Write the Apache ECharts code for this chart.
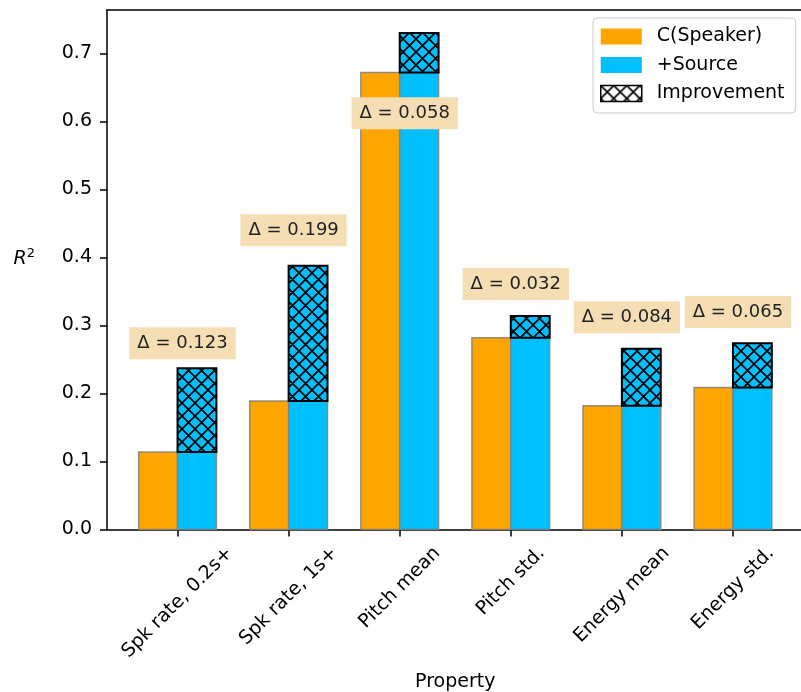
<!DOCTYPE html>
<html>
<head>
<meta charset="utf-8">
<script src="https://cdn.jsdelivr.net/npm/echarts@6/dist/echarts.min.js"></script>
<style>
  html, body { margin: 0; padding: 0; background: #fff; }
  #chart { width: 801px; height: 692px; }
</style>
</head>
<body>
<div id="chart"></div>
<script>
// Explained variance (R^2) of each prosodic property
const categories = ['Spk rate, 0.2s+', 'Spk rate, 1s+', 'Pitch mean', 'Pitch std.', 'Energy mean', 'Energy std.'];
const speakerR2 = [0.114, 0.189, 0.672, 0.282, 0.182, 0.209];
const improvement = [0.123, 0.199, 0.058, 0.032, 0.084, 0.065];
// height (R^2 units) at which each Δ note is placed
const deltaNoteY = [0.274, 0.440, 0.612, 0.361, 0.312, 0.320];
const yTicks = [0, 0.1, 0.2, 0.3, 0.4, 0.5, 0.6, 0.7];

const FONT = 'DejaVu Sans';
const ORANGE = '#FFA500';
const BLUE = '#00BFFF';
const EDGE = 'rgba(128,128,128,0.85)';
const BAR_W = 0.35;
const NOTE_DX = 0.045;
const TICK_FS = 19;
const X_MIN = -0.635, X_MAX = 5.635;

// cross-hatch tile used as a pattern fill
function hatchTile(bg) {
  const s = 13;
  const c = document.createElement('canvas');
  c.width = c.height = s;
  const g = c.getContext('2d');
  g.fillStyle = bg;
  g.fillRect(0, 0, s, s);
  g.strokeStyle = '#000';
  g.lineWidth = 1.7;
  g.beginPath();
  for (const o of [-s, 0, s]) {
    g.moveTo(o, 0); g.lineTo(o + s, s);
    g.moveTo(o + s, 0); g.lineTo(o, s);
  }
  g.stroke();
  return c;
}
const hatchBlue = { image: hatchTile(BLUE), repeat: 'repeat' };
const hatchWhite = { image: hatchTile('#fff'), repeat: 'repeat' };

function rectBetween(api, x0, x1, y0, y1) {
  const a = api.coord([x0, y1]);
  const b = api.coord([x1, y0]);
  return { x: a[0], y: a[1], width: b[0] - a[0], height: b[1] - a[1] };
}

// rotated tick labels: pad each one so its bounding box is centred under the tick
const measure = document.createElement('canvas').getContext('2d');
measure.font = TICK_FS + 'px "' + FONT + '"';
const tickRich = {};
categories.forEach((c, i) => {
  const L = measure.measureText(c).width;
  const s = (L + TICK_FS) / 2;
  tickRich['c' + i] = { fontSize: TICK_FS, fontFamily: FONT, color: '#000', padding: [s, s, 0, 0] };
});

const spine = { show: true, onZero: false, lineStyle: { color: '#000', width: 1.5 } };
const tickStyle = { color: '#000', width: 1.5 };

const chart = echarts.init(document.getElementById('chart'), null, { renderer: 'canvas' });

chart.setOption({
  animation: false,
  backgroundColor: '#fff',
  textStyle: { fontFamily: FONT },
  grid: {
    left: 107, right: -2.5, top: 10, bottom: 162.5,
    show: false,
    outerBoundsMode: 'none'
  },
  legend: {
    orient: 'vertical',
    left: 593, top: 18,
    padding: [9, 11, 10, 7],
    itemWidth: 41, itemHeight: 16, itemGap: 9.5,
    backgroundColor: 'rgba(255,255,255,0.85)',
    borderColor: '#cccccc', borderWidth: 1, borderRadius: 4,
    selectedMode: false,
    textStyle: { fontSize: 19, fontFamily: FONT, color: '#000', lineHeight: 19, padding: [0, 0, 0, 10] },
    data: [
      { name: 'C(Speaker)', icon: 'rect', itemStyle: { color: ORANGE, borderWidth: 0 } },
      { name: '+Source', icon: 'rect', itemStyle: { color: BLUE, borderWidth: 0 } },
      { name: 'Improvement', icon: 'rect', itemStyle: { color: hatchWhite, borderColor: '#000', borderWidth: 1.5 } }
    ]
  },
  xAxis: [
    {
      type: 'value',
      min: X_MIN, max: X_MAX,
      splitLine: { show: false },
      axisLine: spine,
      axisTick: { show: true, length: 7, lineStyle: tickStyle, customValues: categories.map((_, i) => i) },
      axisLabel: {
        customValues: categories.map((_, i) => i),
        rotate: 45, align: 'center', verticalAlign: 'middle', margin: 14,
        hideOverlap: false,
        formatter: v => { const i = Math.round(v); return '{c' + i + '|' + categories[i] + '}'; },
        rich: tickRich
      },
      name: 'Property', nameLocation: 'middle', nameGap: 143,
      nameTextStyle: { fontSize: 19, fontFamily: FONT, color: '#000' }
    },
    {
      // top frame line
      type: 'value', position: 'top',
      min: X_MIN, max: X_MAX,
      splitLine: { show: false },
      axisLine: spine,
      axisTick: { show: false },
      axisLabel: { show: false }
    }
  ],
  yAxis: {
    type: 'value',
    min: 0, max: 0.764,
    splitLine: { show: false },
    axisLine: spine,
    axisTick: { show: true, length: 7, lineStyle: tickStyle, customValues: yTicks },
    axisLabel: {
      customValues: yTicks, margin: 15,
      fontSize: TICK_FS, fontFamily: FONT, color: '#000',
      padding: [5, 0, 0, 0],
      formatter: v => v.toFixed(1)
    },
    name: '{r|R}{s|2}', nameLocation: 'middle', nameRotate: 0, nameGap: 72,
    nameTextStyle: {
      padding: [0, 0, 22, 0],
      rich: {
        r: { fontSize: 19, fontStyle: 'italic', fontFamily: FONT, color: '#000', lineHeight: 24 },
        s: { fontSize: 13, fontFamily: FONT, color: '#000', lineHeight: 13, verticalAlign: 'top' }
      }
    }
  },
  series: [
    {
      type: 'custom', name: 'C(Speaker)',
      data: speakerR2.map((v, i) => [i, v]),
      encode: { x: 0, y: 1 },
      itemStyle: { color: ORANGE },
      renderItem: (params, api) => ({
        type: 'rect',
        shape: rectBetween(api, api.value(0) - BAR_W, api.value(0), 0, api.value(1)),
        style: { fill: ORANGE, stroke: EDGE, lineWidth: 1.5 }
      })
    },
    {
      type: 'custom', name: '+Source',
      data: speakerR2.map((v, i) => [i, v]),
      encode: { x: 0, y: 1 },
      itemStyle: { color: BLUE },
      renderItem: (params, api) => ({
        type: 'rect',
        shape: rectBetween(api, api.value(0), api.value(0) + BAR_W, 0, api.value(1)),
        style: { fill: BLUE, stroke: EDGE, lineWidth: 1.5 }
      })
    },
    {
      type: 'custom', name: 'Improvement',
      data: speakerR2.map((v, i) => [i, v, v + improvement[i]]),
      encode: { x: 0, y: [1, 2] },
      itemStyle: { color: BLUE },
      renderItem: (params, api) => ({
        type: 'rect',
        shape: rectBetween(api, api.value(0), api.value(0) + BAR_W, api.value(1), api.value(2)),
        style: { fill: hatchBlue, stroke: '#000', lineWidth: 2 }
      })
    },
    {
      type: 'custom', name: 'delta-notes', z: 5,
      data: deltaNoteY.map((y, i) => [i, y, improvement[i]]),
      encode: { x: 0, y: 1 },
      renderItem: (params, api) => {
        const p = api.coord([api.value(0) + NOTE_DX, api.value(1)]);
        return {
          type: 'text', x: p[0], y: p[1],
          style: {
            text: 'Δ = ' + api.value(2).toFixed(3),
            fontSize: 18, fontFamily: FONT, fill: '#222',
            align: 'center', verticalAlign: 'middle',
            backgroundColor: '#F5DEB3', padding: [7, 8, 7, 8]
          }
        };
      }
    }
  ]
});
</script>
</body>
</html>
